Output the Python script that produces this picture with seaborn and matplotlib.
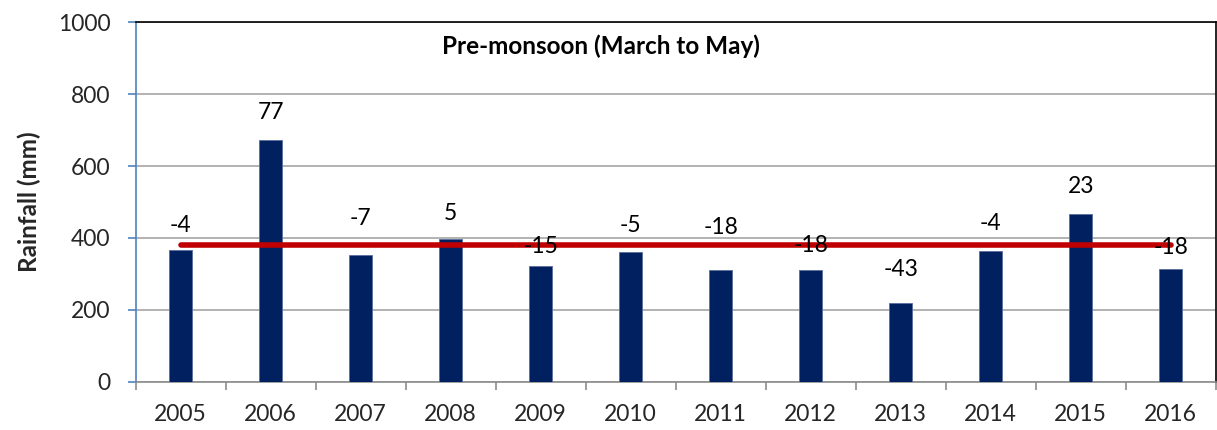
import matplotlib
matplotlib.use("Agg")
import matplotlib.pyplot as plt
import seaborn as sns
import pandas as pd
import numpy as np

# ---- data ----
years = ["2005", "2006", "2007", "2008", "2009", "2010",
         "2011", "2012", "2013", "2014", "2015", "2016"]
rainfall = [366, 673, 354, 398, 322, 360, 312, 311, 218, 364, 466, 313]
departure = ["-4", "77", "-7", "5", "-15", "-5", "-18", "-18", "-43", "-4", "23", "-18"]
normal_rainfall = 380
title = "Pre-monsoon (March to May)"
ylabel = "Rainfall (mm)"
yticks = [0, 200, 400, 600, 800, 1000]

# label vertical offsets above bar tops (pixels, style only)
label_dy_px = [25, 27, 36, 25, 19, 27, 42, 24, 34, 27, 28, 22]

sns.set_theme(style="white")
plt.rcParams["font.family"] = ["Lato", "DejaVu Sans"]

fig = plt.figure(figsize=(12.17, 4.30), dpi=100)
ax = fig.add_axes([0.1115, 0.1123, 0.8875, 0.8357])

df = pd.DataFrame({"year": years, "rain": rainfall})
sns.barplot(data=df, x="year", y="rain", color="#002060", width=0.26,
            saturation=1, edgecolor="#5a6e9c", linewidth=0.6, ax=ax, zorder=3)

# normal line
ax.plot(range(len(years)), [normal_rainfall] * len(years), color="#C00000",
        lw=4.0, solid_capstyle="round", zorder=4)

# data labels
for i, (v, lab) in enumerate(zip(rainfall, departure)):
    ax.annotate(lab, xy=(i, v), xytext=(0, label_dy_px[i] * 0.72),
                textcoords="offset points", ha="center", va="center",
                fontsize=16.5, color="black", zorder=5)

ax.set_ylim(0, 1000)
ax.set_xlim(-0.5, len(years) - 0.5)
ax.set_yticks(yticks)
ax.set_yticklabels([str(t) for t in yticks])
ax.grid(axis="y", color="#A6A6A6", lw=1.2, zorder=0)
ax.grid(axis="x", visible=False)
ax.set_axisbelow(True)

ax.set_xlabel("")
ax.set_ylabel(ylabel, fontsize=17.5, fontweight="bold", labelpad=12)

ax.tick_params(axis="y", which="major", length=6, width=1.2, color="#4F81BD",
               labelsize=16.5, pad=12, left=True)
ax.tick_params(axis="x", which="major", length=0, labelsize=16.5, pad=16)
ax.set_xticks(np.arange(-0.5, len(years), 1.0), minor=True)
ax.tick_params(axis="x", which="minor", length=6, width=1.2, color="#8C8C8C",
               bottom=True)

for s in ["top", "right"]:
    ax.spines[s].set_color("black")
    ax.spines[s].set_linewidth(1.2)
ax.spines["left"].set_color("#4F81BD")
ax.spines["left"].set_linewidth(1.2)
ax.spines["bottom"].set_color("#8C8C8C")
ax.spines["bottom"].set_linewidth(1.2)

ax.text(0.431, 0.934, title, transform=ax.transAxes, ha="center", va="center",
        fontsize=17.5, fontweight="bold", color="black")

fig.savefig("out.png", dpi=100)
